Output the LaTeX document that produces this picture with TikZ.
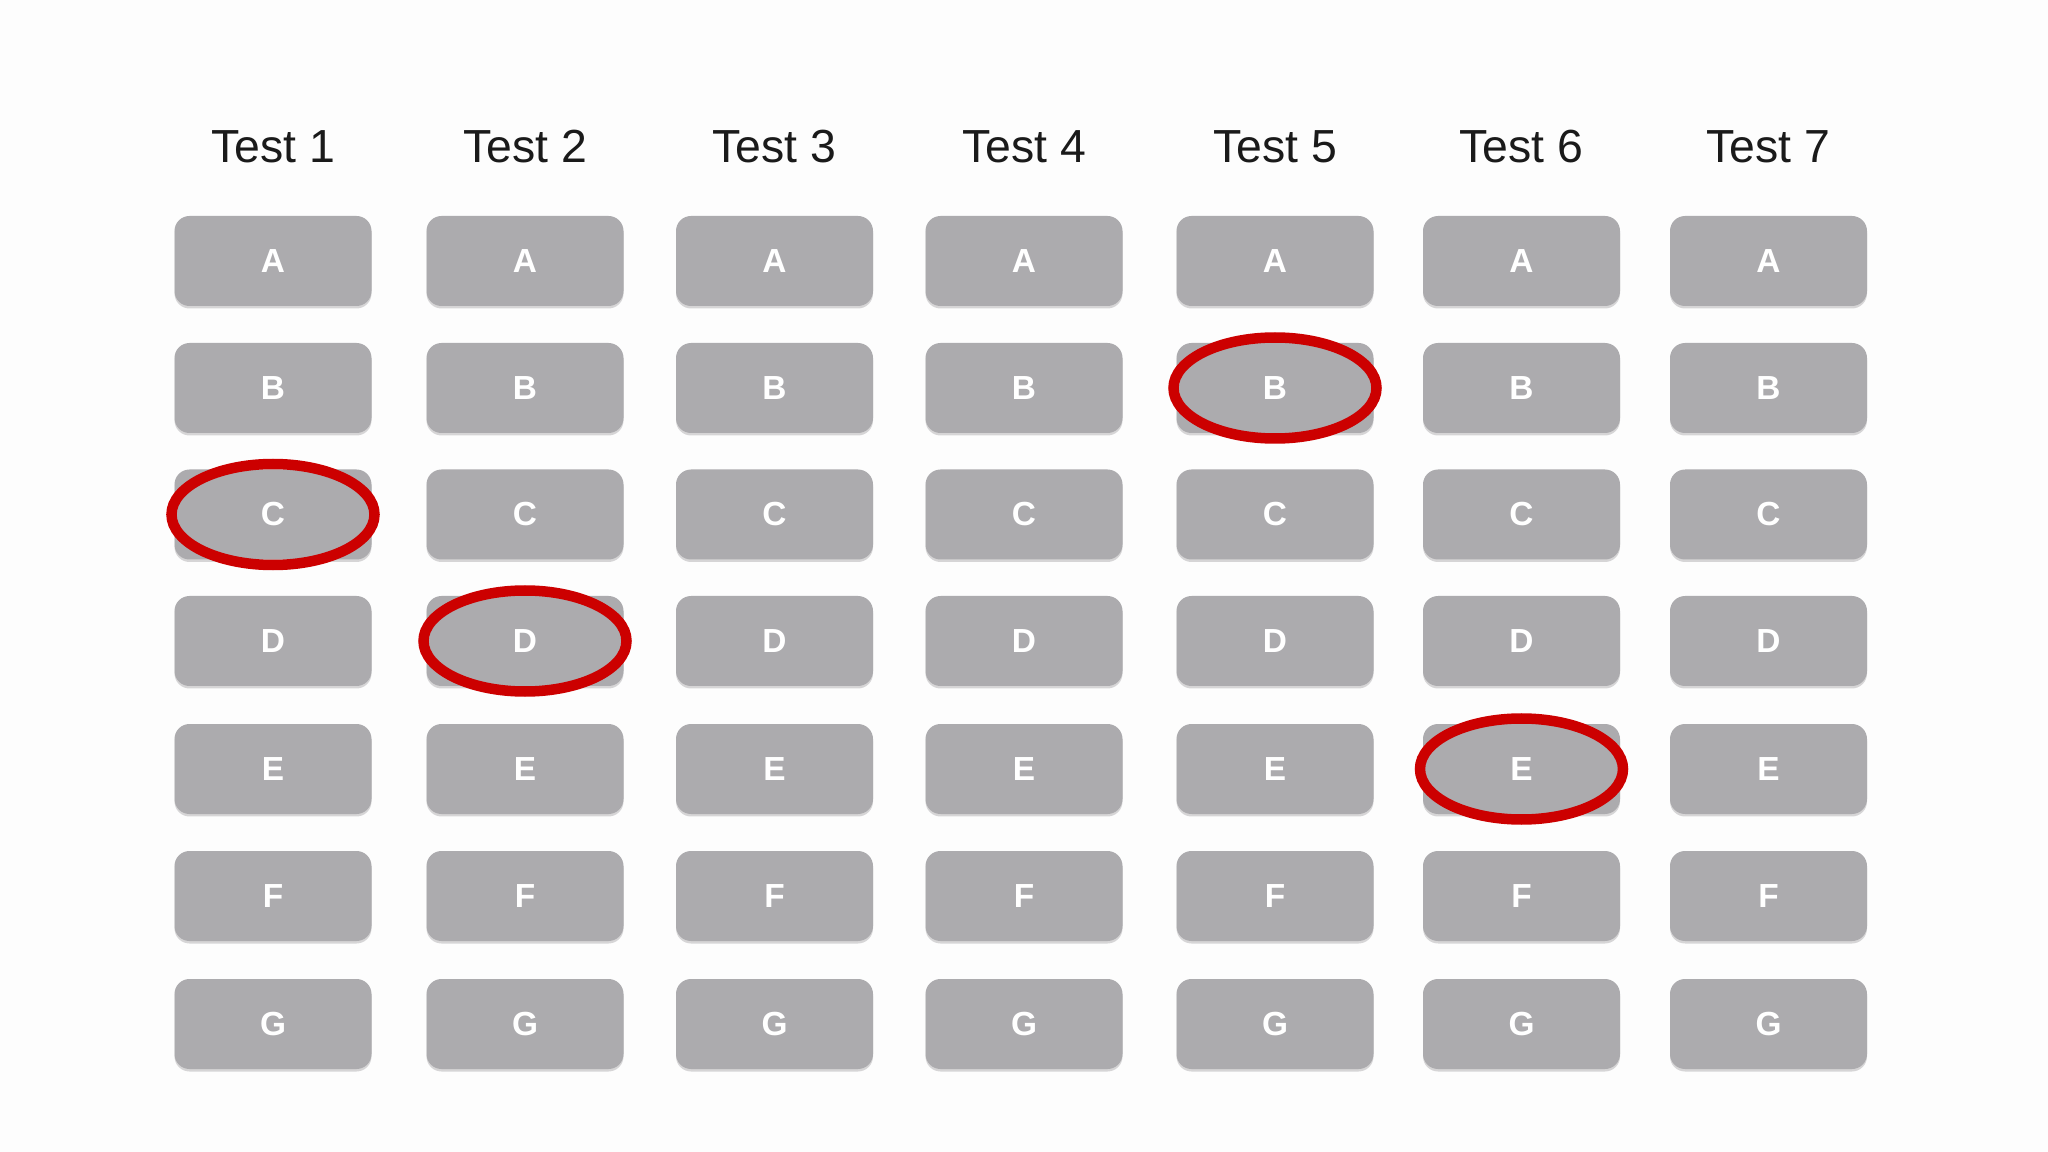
\documentclass[tikz,border=0pt]{standalone}
\usepackage{fontspec}
\setmainfont{Liberation Sans}
\definecolor{boxgray}{HTML}{ACABAE}
\definecolor{shadowgray}{HTML}{8E8D90}
\definecolor{ringred}{HTML}{CC0000}
\definecolor{bgwhite}{HTML}{FDFDFD}
\definecolor{headtext}{HTML}{1A1A1A}
\tikzset{
  keybox/.style={rounded corners=0.15cm, fill=boxgray, minimum width=1.97cm, minimum height=0.90cm,
    text=white, font=\bfseries\fontsize{9.5}{11}\selectfont, inner sep=0pt},
  keyshadow/.style={rounded corners=0.15cm, fill=shadowgray, opacity=0.35, minimum width=1.97cm, minimum height=0.90cm, inner sep=0pt},
  header/.style={anchor=base, font=\fontsize{13.2}{16}\selectfont, text=headtext},
  ring/.style={draw=ringred, line width=0.105cm}
}
\begin{document}
\begin{tikzpicture}
\fill[bgwhite] (0,0) rectangle (20.48,-11.52);
\useasboundingbox (0,0) rectangle (20.48,-11.52);
\foreach \c/\x in {1/2.73,2/5.25,3/7.745,4/10.24,5/12.75,6/15.215,7/17.685}{
  \node[header] (h\c) at (\x,-1.63) {Test \c};
  \foreach \r/\y/\l in {1/-2.61/A,2/-3.88/B,3/-5.145/C,4/-6.41/D,5/-7.69/E,6/-8.96/F,7/-10.24/G}{
    \node[keyshadow] (s\c\r) at (\x,\y-0.025) {};
    \node[keybox] (k\c\r) at (\x,\y) {\l};
  }
}
\draw[ring] (k13.center) ellipse [x radius=1.015cm, y radius=0.505cm];
\draw[ring] (k24.center) ellipse [x radius=1.015cm, y radius=0.505cm];
\draw[ring] (k52.center) ellipse [x radius=1.015cm, y radius=0.505cm];
\draw[ring] (k65.center) ellipse [x radius=1.015cm, y radius=0.505cm];
\end{tikzpicture}
\end{document}
